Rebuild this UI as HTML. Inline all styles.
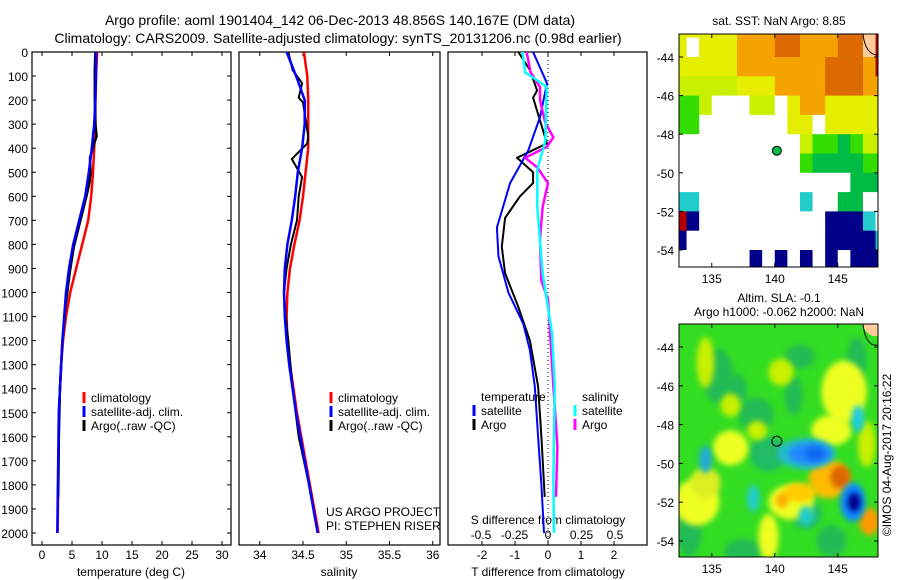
<!DOCTYPE html>
<html><head><meta charset="utf-8">
<style>
html,body{margin:0;padding:0;background:#fff;}
svg{display:block;font-family:"Liberation Sans",sans-serif;}
text{fill:#000;}
</style></head>
<body>
<svg id="fig" width="900" height="580" viewBox="0 0 900 580">
<defs>
<clipPath id="c1"><rect x="32" y="52" width="199" height="493"/></clipPath>
<clipPath id="c2"><rect x="239" y="52" width="201" height="493"/></clipPath>
<clipPath id="c3"><rect x="448" y="52" width="199" height="493"/></clipPath>
<clipPath id="cm1"><rect x="679" y="34" width="199" height="233"/></clipPath>
<clipPath id="cm2"><rect x="679" y="324" width="199" height="233"/></clipPath>
<filter id="blur" x="-50%" y="-50%" width="200%" height="200%"><feGaussianBlur stdDeviation="3"/></filter>
</defs>
<text x="340" y="25" font-size="14" text-anchor="middle">Argo profile: aoml 1901404_142 06-Dec-2013 48.856S 140.167E (DM data)</text>
<text x="338" y="43" font-size="14" text-anchor="middle">Climatology: CARS2009. Satellite-adjusted climatology: synTS_20131206.nc (0.98d earlier)</text>
<g id="axes"></g>
<g id="series"></g>
<g id="maps"></g>
</svg>
<script>
// ---- data ----
const depthStd = [0,100,200,300,400,500,600,700,800,900,1000,1100,1200,1300,1400,1500,1600,1700,1800,1900,2000];
const tempClim = [9.2,9.0,8.9,8.9,8.7,8.5,8.2,7.7,6.7,5.7,4.7,4.0,3.5,3.2,3.0,2.8,2.8,2.75,2.7,2.65,2.6];
const tempSat = [9.0,9.0,8.9,8.7,8.3,7.8,7.2,6.2,5.2,4.5,4.0,3.7,3.4,3.2,3.0,2.8,2.75,2.7,2.65,2.6,2.55];
const argoDepth = [0,75,160,190,300,350,380,440,500,545,600,690,810,920,1060,1200,1390,1600,1850];
const tempArgo = [8.9,8.8,8.8,8.8,8.9,9.1,8.7,8.0,8.1,7.9,7.4,6.5,5.3,4.6,3.9,3.4,3.0,2.8,2.7];
const salArgoDepth = [0,75,130,190,210,350,380,445,520,600,700,800,900,1000,1100,1200,1400,1600,1850];
const salArgo = [34.33,34.38,34.49,34.45,34.5,34.56,34.55,34.37,34.49,34.45,34.43,34.36,34.31,34.28,34.3,34.33,34.38,34.45,34.6];
const salClim = [34.51,34.55,34.56,34.56,34.56,34.53,34.5,34.46,34.4,34.35,34.32,34.31,34.32,34.35,34.39,34.43,34.48,34.53,34.58,34.63,34.68];
const salSat = [34.31,34.42,34.52,34.52,34.49,34.44,34.41,34.37,34.32,34.29,34.28,34.29,34.31,34.34,34.38,34.42,34.47,34.52,34.57,34.62,34.67];
const tDiffSatDepth = [0,130,270,410,545,730,850,1000,1130,1240,1390,1600,1800,2000];
const tDiffSat = [-0.45,-0.03,-0.24,-0.6,-1.15,-1.55,-1.5,-1.2,-0.75,-0.55,-0.4,-0.3,-0.2,-0.12];
const tDiffArgoDepth = [0,75,160,190,380,440,500,545,600,690,810,920,1060,1200,1390,1600,1850];
const tDiffArgo = [-0.9,-0.55,-0.33,-0.45,-0.03,-0.94,-0.45,-0.45,-0.85,-1.3,-1.4,-1.3,-0.9,-0.55,-0.3,-0.2,-0.1];
const sDiffSatDepth = [0,85,145,370,490,645,920,1170,1390,1780,2000];
const sDiffSat = [-0.19,-0.17,-0.01,-0.02,-0.08,-0.08,-0.04,0.03,0.05,0.04,0.045];
const sDiffArgoDepth = [0,85,145,200,295,355,395,440,480,545,645,780,950,1030,1390,1640,1850];
const sDiffArgo = [-0.16,-0.13,-0.06,-0.06,-0.02,0.04,-0.01,-0.17,-0.08,0,-0.04,-0.06,-0.05,0,0.04,0.07,0.06];
const depthTicks = [0,100,200,300,400,500,600,700,800,900,1000,1100,1200,1300,1400,1500,1600,1700,1800,1900,2000];
const tempTicks = [0,5,10,15,20,25,30];
const salTicks = [34,34.5,35,35.5,36];
const tDiffTicks = [-2,-1,0,1,2];
const sDiffTicks = [-0.5,-0.25,0,0.25,0.5];
const lonTicks = [135,140,145];
const latTicks = [-44,-46,-48,-50,-52,-54];

// ---- scales ----
const yD = d => 52 + d*0.2405;
const xT = t => 32 + (t+1.67)*6;
const xS = s => 239 + (s-33.76)*86.5;
const xTd = t => 548 + t*33;
const xSd = s => 548 + s*134;
const mx = lon => 679 + (lon-132.4)*12.6;
const my1 = lat => 57 + (-44-lat)*19.3;
const my2 = lat => 347 + (-44-lat)*19.4;

const NS = 'http://www.w3.org/2000/svg';
function mk(tag, attrs, parent, txt){
  const e = document.createElementNS(NS, tag);
  for (const k in attrs) e.setAttribute(k, attrs[k]);
  if (txt !== undefined) e.textContent = txt;
  parent.appendChild(e);
  return e;
}
const axes = document.getElementById('axes');
const series = document.getElementById('series');
const maps = document.getElementById('maps');

function panelFrame(x0, w, name){
  const r = mk('rect', {x:x0, y:52, width:w, height:493, fill:'none', stroke:'#000', 'stroke-width':1.2}, axes);
  
  
}
panelFrame(32,199,'temperature-panel');
panelFrame(239,201,'salinity-panel');
panelFrame(448,199,'difference-panel');

depthTicks.forEach(d => {
  const t = mk('text', {x:28, y:yD(d)+5, 'font-size':12, 'text-anchor':'end'}, axes, String(d));
  
  
  mk('line', {x1:32, x2:36, y1:yD(d), y2:yD(d), stroke:'#000'}, axes);
  mk('line', {x1:231, x2:227, y1:yD(d), y2:yD(d), stroke:'#000'}, axes);
});
function xTicks(vals, fx, labels, ty, name){
  vals.forEach((v,i) => {
    const x = fx(v);
    mk('line', {x1:x, x2:x, y1:545, y2:541, stroke:'#000'}, axes);
    mk('line', {x1:x, x2:x, y1:52, y2:56, stroke:'#000'}, axes);
    const t = mk('text', {x:x, y:ty, 'font-size':12, 'text-anchor':'middle'}, axes, labels[i]);
    
    
  });
}
xTicks(tempTicks, xT, tempTicks.map(String), 559, 'temperature-tick-label');
xTicks(salTicks, xS, salTicks.map(String), 559, 'salinity-tick-label');
xTicks(tDiffTicks, xTd, tDiffTicks.map(String), 559, 'tdiff-tick-label');
sDiffTicks.forEach(v => {
  const t = mk('text', {x:xSd(v), y:539, 'font-size':12, 'text-anchor':'middle'}, axes, String(v));
  
  
});
mk('line', {x1:548, x2:548, y1:52, y2:545, stroke:'#000', 'stroke-dasharray':'1,3'}, axes);

function label(x,y,txt,name,size,anchor){
  const t = mk('text', {x:x, y:y, 'font-size':size||12, 'text-anchor':anchor||'middle'}, axes, txt);
  
  
}
label(131,576,'temperature (deg C)','temperature-axis-title');
label(339,576,'salinity','salinity-axis-title');
label(548,576,'T difference from climatology','tdiff-axis-title');
label(548,524,'S difference from climatology','sdiff-axis-title');
label(326,516,'US ARGO PROJECT','project-note',12,'start');
label(326,530,'PI: STEPHEN RISER','pi-note',12,'start');

function line(xs, ds, fx, color, w, clip, name){
  const pts = xs.map((v,i) => fx(v).toFixed(1)+','+yD(ds[i]).toFixed(1)).join(' ');
  const p = mk('polyline', {points:pts, fill:'none', stroke:color, 'stroke-width':w, 'clip-path':'url(#'+clip+')', 'stroke-linejoin':'round'}, series);
  
  
}
line(tempClim, depthStd, xT, '#ff0000', 2.5, 'c1', 'temp-climatology-line');
line(tempArgo, argoDepth, xT, '#000', 2.5, 'c1', 'temp-argo-line');
line(tempSat, depthStd, xT, '#0000ff', 2.5, 'c1', 'temp-satellite-line');
line(salClim, depthStd, xS, '#ff0000', 2.5, 'c2', 'sal-climatology-line');
line(salArgo, salArgoDepth, xS, '#000', 2, 'c2', 'sal-argo-line');
line(salSat, depthStd, xS, '#0000ff', 2.5, 'c2', 'sal-satellite-line');
line(tDiffArgo, tDiffArgoDepth, xTd, '#000', 2, 'c3', 'tdiff-argo-line');
line(tDiffSat, tDiffSatDepth, xTd, '#0000ff', 2, 'c3', 'tdiff-satellite-line');
line(sDiffArgo, sDiffArgoDepth, xSd, '#ff00ff', 2.5, 'c3', 'sdiff-argo-line');
line(sDiffSat, sDiffSatDepth, xSd, '#00ffff', 2.5, 'c3', 'sdiff-satellite-line');

function legendEntry(x, y, color, txt, name){
  const g = mk('g', {}, series);
  
  
  if (color) mk('line', {x1:x, x2:x, y1:y-10, y2:y+1, stroke:color, 'stroke-width':3}, g);
  mk('text', {x:x+7, y:y, 'font-size':12}, g, txt);
}
[[ '#ff0000','climatology'],['#0000ff','satellite-adj. clim.'],['#000','Argo(..raw -QC)']].forEach((e,i)=>{
  legendEntry(84, 402+i*14, e[0], e[1], 'temp-legend-entry');
  legendEntry(331, 402+i*14, e[0], e[1], 'sal-legend-entry');
});
legendEntry(474, 401, null, 'temperature', 'tdiff-legend-header');
legendEntry(474, 415, '#0000ff', 'satellite', 'tdiff-legend-satellite');
legendEntry(474, 429, '#000', 'Argo', 'tdiff-legend-argo');
legendEntry(575, 401, null, 'salinity', 'sdiff-legend-header');
legendEntry(575, 415, '#00ffff', 'satellite', 'sdiff-legend-satellite');
legendEntry(575, 429, '#ff00ff', 'Argo', 'sdiff-legend-argo');

// ---- map 1 (SST), 1-degree cells: rows from lat -42 downward, cols from lon 132 ----
const sstGrid = [
 'yyyyyOOOooOOOoopr',
 'ywyyyOOOooOOOoopr',
 'yyyyyOOOOOOOoooOr',
 'YYYYYyyyOOOOoooOO',
 'ggYwwwYYwyOOyyyyy',
 'ggwwwwwwwyywyyyyy',
 'wwwwwwwwwwYggGgYY',
 'wwwwwwwwwwgGGGGgg',
 'wwwwwwwwwwwwwwGGG',
 'ccwwwwwwwwcwwGGww',
 'rbwwwwwwwwwwbbbcw',
 'bwwwwwwwwwwwbbbbc',
 'wwwwwwbwbwbwbwbbb'];
const sstCol = {y:'#e6ee00',Y:'#c8f000',O:'#f4a300',o:'#dd6a00',p:'#ffcc99',r:'#b00000',g:'#33dd00',G:'#00bb44',b:'#000088',c:'#22cccc',w:'#ffffff'};
const m1 = mk('g', {'clip-path':'url(#cm1)'}, maps);


mk('rect', {x:679,y:34,width:199,height:233,fill:'#fff'}, m1);
sstGrid.forEach((row,r) => {
  [...row].forEach((ch,c) => {
    mk('rect', {x:mx(132+c), y:my1(-42-r), width:13.1, height:19.8, fill:sstCol[ch]}, m1);
  });
});
mk('path', {d:'M'+mx(147)+',34 Q'+mx(147.2)+','+my1(-43.9)+' '+mx(148.2)+','+my1(-43.9), fill:'none', stroke:'#000'}, m1);
const a1 = mk('circle', {cx:mx(140.167), cy:my1(-48.856), r:4.5, fill:'#00bb44', stroke:'#000'}, maps);


mk('rect', {x:679,y:34,width:199,height:233,fill:'none',stroke:'#000'}, maps);

// ---- map 2 (SLA) ----
const m2 = mk('g', {'clip-path':'url(#cm2)'}, maps);


mk('rect', {x:679,y:324,width:199,height:233,fill:'#33dd22'}, m2);
const blobs = [
 [135.5,-45.5,1.2,1.4,'#22bb55'],[138.5,-47.5,1.4,0.9,'#22bb55'],[141.5,-46.5,0.7,1.0,'#22bb55'],
 [146.5,-44.7,0.8,1.2,'#22bb55'],[133.2,-53.5,1.0,1.3,'#22bb55'],[139.5,-49.5,1.5,0.9,'#22bb66'],
 [142.5,-52.6,1.2,0.8,'#22bb66'],[137.5,-54.5,1.5,0.6,'#22bb55'],[144.5,-54,1.2,0.8,'#22bb55'],
 [142,-44.5,1.2,0.6,'#22bb55'],[137,-46.2,0.8,0.8,'#22bb55'],
 [133.8,-52,1.8,1.2,'#eeff22'],[134.5,-51,1.2,0.8,'#ddee22'],[136.5,-49.2,1.4,0.9,'#eeff22'],
 [141.3,-52,1.8,0.9,'#eeff22'],[145.5,-46.3,1.8,1.6,'#eeff22'],[144.5,-48.3,1.6,0.8,'#eeff22'],
 [139.5,-53.8,0.8,1.2,'#eeff22'],[140.5,-45.3,1,0.7,'#c8f000'],[134.5,-44.8,0.7,1.3,'#c8f000'],
 [136.5,-47,0.8,0.6,'#c8f000'],[147.3,-49,0.7,1.2,'#c8f000'],[138.6,-48.3,0.8,0.5,'#c8f000'],
 [144.3,-50.8,1.6,1.0,'#ffbb00'],[145.2,-50.7,0.8,0.6,'#dd6600'],[142,-51.5,1.3,0.5,'#ffcc00'],
 [147.5,-53,0.8,0.7,'#ff9900'],[140.6,-51.9,0.5,0.4,'#ffaa00'],
 [142.5,-49.5,2.3,0.8,'#22bbcc'],[142.8,-49.5,1.7,0.55,'#2288ff'],[143.2,-49.5,0.8,0.35,'#1166ee'],
 [134.5,-49.8,0.5,0.7,'#22aadd'],[138.3,-51.8,0.5,0.7,'#22cccc'],[146.6,-47.7,0.5,0.7,'#22ccdd'],
 [146.2,-52,1.0,1.0,'#1188ff'],[146.3,-52,0.5,0.5,'#000088'],[142.5,-52.7,0.6,0.5,'#22cccc']
];
blobs.forEach(b => {
  mk('ellipse', {cx:mx(b[0]), cy:my2(b[1]), rx:b[2]*12.6, ry:b[3]*19.4, fill:b[4], filter:'url(#blur)'}, m2);
});
mk('path', {d:'M'+mx(146.9)+',324 L'+mx(148.2)+',324 L'+mx(148.2)+','+my2(-43.4)+' Q'+mx(147.5)+','+my2(-43.6)+' '+mx(146.9)+',324 Z', fill:'#ffcc99'}, m2);
mk('path', {d:'M'+mx(147)+',324 Q'+mx(147.2)+','+my2(-44)+' '+mx(148.2)+','+my2(-43.9), fill:'none', stroke:'#000'}, m2);
const a2 = mk('circle', {cx:mx(140.167), cy:my2(-48.856), r:5, fill:'none', stroke:'#000'}, maps);


mk('rect', {x:679,y:324,width:199,height:233,fill:'none',stroke:'#000'}, maps);

[[my1,34,267,'sst'],[my2,324,557,'sla']].forEach(([fy,top,bot,nm]) => {
  latTicks.forEach(l => {
    const y = fy(l);
    mk('line', {x1:679,x2:683,y1:y,y2:y,stroke:'#000'}, maps);
    mk('line', {x1:878,x2:874,y1:y,y2:y,stroke:'#000'}, maps);
    const t = mk('text', {x:674, y:y+5, 'font-size':12, 'text-anchor':'end'}, maps, String(l));
    
    
  });
  lonTicks.forEach(l => {
    const x = mx(l);
    mk('line', {x1:x,x2:x,y1:bot,y2:bot-4,stroke:'#000'}, maps);
    mk('line', {x1:x,x2:x,y1:top,y2:top+4,stroke:'#000'}, maps);
    const t = mk('text', {x:x, y:bot+16, 'font-size':12, 'text-anchor':'middle'}, maps, String(l));
    
    
  });
});
label(779,25,'sat. SST: NaN Argo: 8.85','sst-map-title');
label(779,302,'Altim. SLA: -0.1','sla-map-title');
label(779,316,'Argo h1000: -0.062 h2000: NaN','sla-map-subtitle');
const credit = mk('text', {x:0, y:0, 'font-size':12, 'text-anchor':'middle', transform:'translate(891,455) rotate(-90)'}, maps, '©IMOS 04-Aug-2017 20:16:22');


</script>
</body></html>
